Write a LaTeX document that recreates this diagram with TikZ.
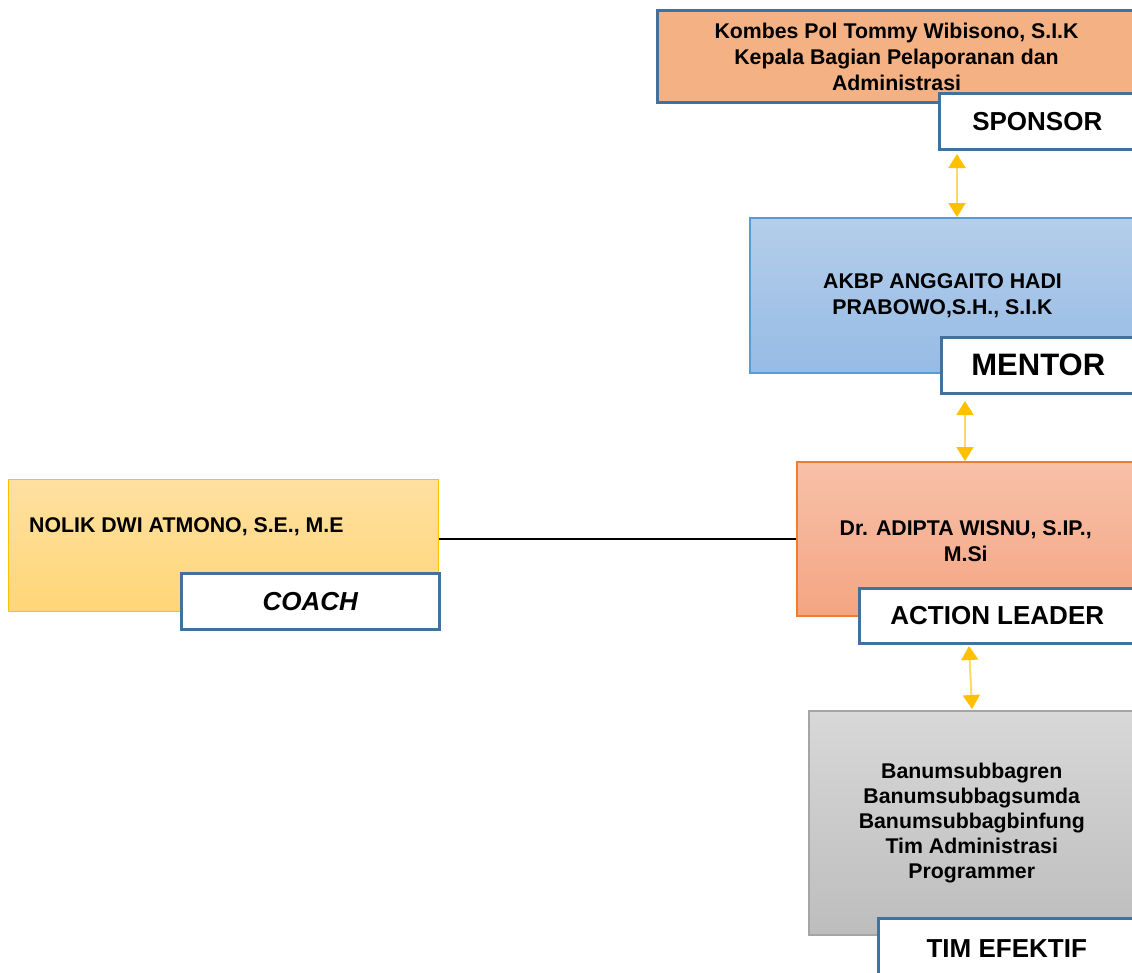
\documentclass[tikz,border=0pt]{standalone}
\usepackage{fontspec}
\setmainfont{Liberation Sans}
\usetikzlibrary{arrows.meta,calc}
\definecolor{sponsorfill}{HTML}{F4B183}
\definecolor{sponsorborder}{HTML}{41719C}
\definecolor{labelblue}{HTML}{41719C}
\definecolor{mentortop}{HTML}{B4CEEA}
\definecolor{mentorbot}{HTML}{96BBE5}
\definecolor{mentorborder}{HTML}{5B9BD5}
\definecolor{actiontop}{HTML}{F8C1A9}
\definecolor{actionbot}{HTML}{F4A582}
\definecolor{actionborder}{HTML}{ED7D31}
\definecolor{timtop}{HTML}{D8D8D8}
\definecolor{timbot}{HTML}{BDBDBD}
\definecolor{timborder}{HTML}{A5A5A5}
\definecolor{coachtop}{HTML}{FFE0A0}
\definecolor{coachbot}{HTML}{FFD677}
\definecolor{coachborder}{HTML}{FFC000}
\definecolor{arrowyellow}{HTML}{FFC000}
\definecolor{linkyellow}{HTML}{FFD966}
\begin{document}
\begin{tikzpicture}[x=1pt,y=-1pt,
  mainbox/.style={anchor=north west, inner sep=0pt, align=center,
    font=\fontsize{21.3}{26}\selectfont\bfseries},
  labelbox/.style={anchor=north west, inner sep=0pt, fill=white, draw=labelblue,
    line width=2.5pt, font=\fontsize{26}{30}\selectfont\bfseries},
  link/.style={draw=linkyellow, line width=2pt,
    {Triangle[width=17pt,length=14pt,color=arrowyellow]}-{Triangle[width=17pt,length=14pt,color=arrowyellow]}}]
\useasboundingbox (0,0) rectangle (1132,972);
\clip (0,0) rectangle (1132,972);

% Sponsor
\node[mainbox, fill=sponsorfill, draw=sponsorborder, line width=3pt,
  minimum width=478pt, minimum height=92pt] (sponsor) at (656,9)
  {Kombes Pol Tommy Wibisono, S.I.K\\Kepala Bagian Pelaporanan dan\\Administrasi};
\node[labelbox, minimum width=196pt, minimum height=56pt] (sponsorlabel) at (938,92) {SPONSOR};

% Mentor
\node[mainbox, top color=mentortop, bottom color=mentorbot, draw=mentorborder, line width=2pt,
  minimum width=385pt, minimum height=155pt] (mentor) at (749,217)
  {AKBP ANGGAITO HADI\\PRABOWO,S.H., S.I.K};
\node[labelbox, minimum width=194pt, minimum height=56pt,
  font=\fontsize{31}{35}\selectfont\bfseries] (mentorlabel) at (940,336) {MENTOR};

% Action leader
\node[mainbox, top color=actiontop, bottom color=actionbot, draw=actionborder, line width=1.5pt,
  minimum width=338pt, minimum height=154pt] (action) at (796,461)
  {\rule{0pt}{20.5pt}Dr. ADIPTA WISNU, S.IP.,\\M.Si};
\node[labelbox, minimum width=276pt, minimum height=55pt] (actionlabel) at (858,587) {ACTION LEADER};

% Tim efektif
\node[mainbox, top color=timtop, bottom color=timbot, draw=timborder, line width=1.5pt,
  minimum width=326pt, minimum height=224pt, font=\fontsize{21.3}{25}\selectfont\bfseries] (tim) at (808,710)
  {Banumsubbagren\\Banumsubbagsumda\\Banumsubbagbinfung\\Tim Administrasi\\Programmer};
\node[labelbox, minimum width=257pt, minimum height=64pt] (timlabel) at (877,917) {\raisebox{3pt}{TIM EFEKTIF}};

% Coach
\node[mainbox, top color=coachtop, bottom color=coachbot, draw=coachborder, line width=1pt,
  minimum width=430pt, minimum height=132pt] (coach) at (8,479) {};
\node[anchor=west, inner sep=0pt, font=\fontsize{21.3}{26}\selectfont\bfseries] (coachtext) at (29,527)
  {NOLIK DWI ATMONO, S.E., M.E};
\node[labelbox, minimum width=258pt, minimum height=56pt,
  font=\fontsize{26}{30}\selectfont\bfseries\itshape] (coachlabel) at (180,572) {COACH};

% connectors
\coordinate (a1top) at (957,154);
\coordinate (a2top) at (965,401);
\coordinate (a3top) at (969,646);
\coordinate (a3bot) at (972,709);
\draw[link] (a1top) -- (mentor.north -| a1top);
\draw[link] (a2top) -- (action.north -| a2top);
\draw[link] (a3top) -- (a3bot);
\draw[black, line width=2pt] (action.west -| coach.east) -- (action.west);
\end{tikzpicture}
\end{document}
